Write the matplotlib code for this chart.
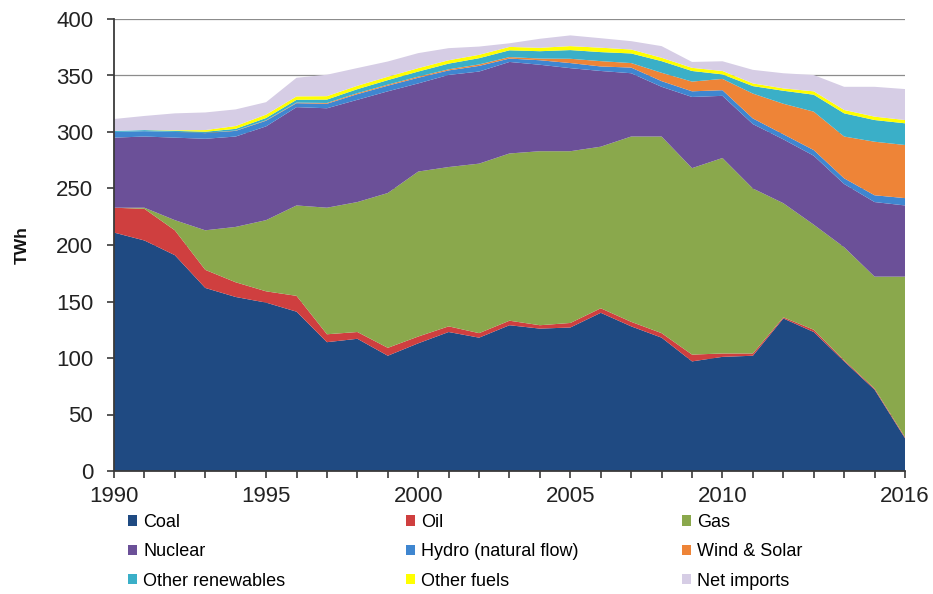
import matplotlib
matplotlib.use("Agg")
import matplotlib.pyplot as plt
from matplotlib.patches import Patch
import numpy as np

years = list(range(1990, 2017))

coal = [211, 204, 191, 162, 154, 149, 141, 114, 117, 102, 113, 123, 118, 129,
        126, 127, 140, 128, 118, 97, 101, 102, 135, 123, 97, 72, 29]
oil = [22, 28, 22, 16, 13, 10, 14, 7, 6, 7, 6, 5, 4, 4,
       3, 4, 4, 4, 4, 6, 3, 2, 1, 2, 1, 1, 1]
gas = [0, 1, 9, 35, 49, 63, 80, 112, 115, 137, 146, 141, 150, 148,
       154, 152, 143, 164, 174, 165, 173, 146, 101, 93, 100, 99, 142]
nuclear = [62, 63, 73, 81, 80, 83, 87, 88, 90.5, 90, 78, 81.5, 81.5, 81,
           76.5, 73.5, 67, 56, 44, 63, 55, 57, 56.5, 61, 56, 66, 63]
hydro = [5, 4.7, 5, 5, 5, 5, 3.5, 4, 5, 5, 5, 4, 5, 3,
         4, 4.5, 4, 5, 5, 5, 5, 5, 4.5, 5, 5, 6, 6.5]
wind_solar = [0, 0, 0, 0.2, 0.3, 0.4, 0.5, 0.7, 0.9, 0.9, 1, 1, 1.3, 1.3,
              1.5, 3.8, 4.7, 4, 7.4, 8.6, 10, 22, 27, 34, 37, 47.4, 47]
other_ren = [1, 1, 1, 1, 1.5, 2, 2.5, 3, 3.5, 4, 4.5, 5, 5.5, 6,
             6.5, 7.7, 8, 8.5, 10.3, 9.4, 4, 6.6, 11.5, 15, 20.5, 19.2, 19.2]
other_fuels = [0, 0, 0.5, 1.5, 2.5, 3, 3, 3, 3, 3, 3, 3, 3, 3,
               3, 3.5, 3.9, 3.5, 3, 2.8, 3, 2.4, 2.1, 3, 3, 3, 2.9]
net_imports = [10.5, 12.5, 15, 15.6, 14.7, 11, 16.5, 19, 15.7, 13.5, 13.3, 10.7, 7.3, 3.2,
               8, 9.5, 8.4, 7.4, 10.3, 5.2, 8.6, 12, 13.4, 14.4, 20.5, 26.4, 27.4]

labels = ["Coal", "Oil", "Gas", "Nuclear", "Hydro (natural flow)", "Wind & Solar",
          "Other renewables", "Other fuels", "Net imports"]
colors = ["#1f4a82", "#cf3f3f", "#8aa84c", "#6b5098", "#3f86d0", "#ee8437",
          "#3aafc8", "#ffff00", "#d6cde5"]

x_tick_labels = [1990, 1995, 2000, 2005, 2010, 2016]
y_ticks = list(range(0, 401, 50))

plt.rcParams['font.family'] = ['Liberation Sans', 'DejaVu Sans']

fig = plt.figure(figsize=(9.33, 5.94), dpi=100)
ax = fig.add_axes([114/933, 1-471/594, 791/933, 452/594])

series = [coal, oil, gas, nuclear, hydro, wind_solar, other_ren, other_fuels, net_imports]
ax.stackplot(years, *series, colors=colors, linewidth=0, zorder=2)

ax.set_xlim(1990, 2016)
ax.set_ylim(0, 400)
ax.set_yticks(y_ticks)
ax.set_xticks(years, minor=False)
ax.set_xticklabels([str(y) if y in x_tick_labels else "" for y in years])

ax.grid(axis='y', color='#8c8c8c', linewidth=0.9, zorder=0)
ax.set_axisbelow(True)

for s in ['top', 'right']:
    ax.spines[s].set_visible(False)
for s in ['left', 'bottom']:
    ax.spines[s].set_color('#3a3a3a')
    ax.spines[s].set_linewidth(1.3)
    ax.spines[s].set_zorder(5)

ax.tick_params(axis='y', direction='out', length=5, width=1.2, color='#3a3a3a',
               labelsize=16, pad=10, labelcolor='#222222')
ax.tick_params(axis='x', direction='out', length=5, width=1.2, color='#3a3a3a',
               labelsize=16, pad=6, labelcolor='#222222')

fig.text(22/933, 1-245/594, "TWh", rotation=90, fontsize=12.5, fontweight='bold',
         ha='center', va='center', color='#111111')

handles = [Patch(facecolor=c, edgecolor='none') for c in colors]
col_x = [128, 406, 682]
for ci in range(3):
    idx = [ci, ci + 3, ci + 6]
    fig.legend([handles[i] for i in idx], [labels[i] for i in idx],
               loc='upper left', bbox_to_anchor=(col_x[ci]/933, 1-514/594),
               frameon=False, fontsize=13, handlelength=0.5, handleheight=0.5,
               handletextpad=0.35, labelspacing=0.68, borderpad=0, borderaxespad=0)

fig.savefig("out.png", dpi=100)
